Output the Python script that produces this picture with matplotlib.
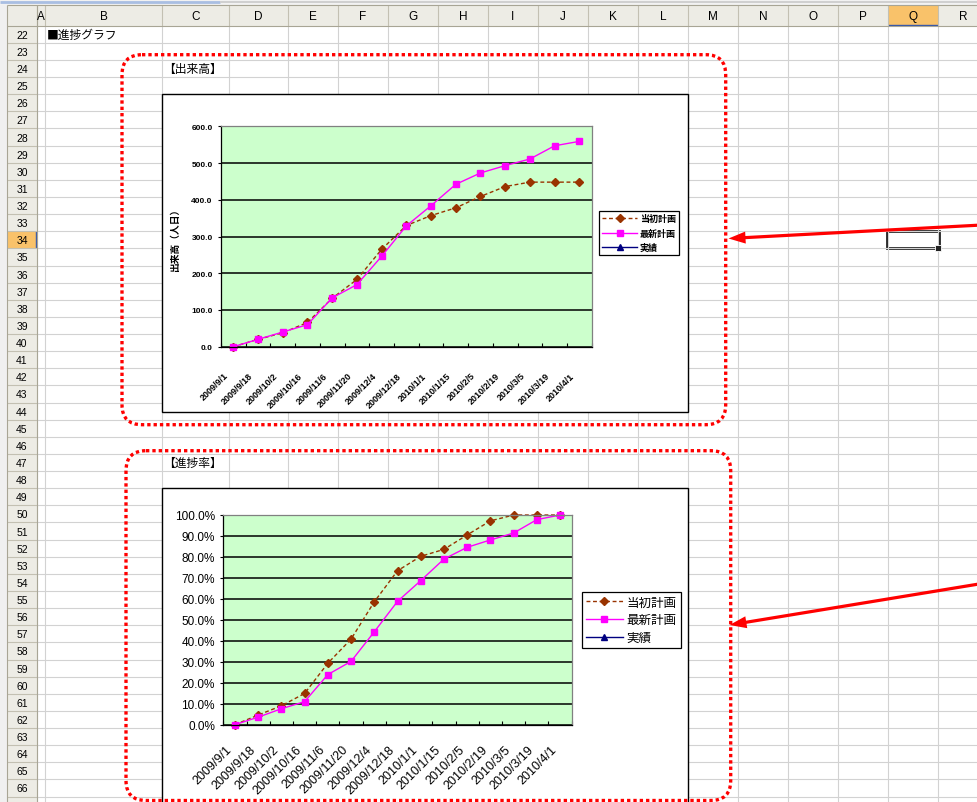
import numpy as np
import matplotlib
matplotlib.use('Agg')
import matplotlib.pyplot as plt
import matplotlib.transforms as mtransforms
from matplotlib.patches import Rectangle, FancyBboxPatch, FancyArrow
from matplotlib.ticker import FixedLocator, FuncFormatter

plt.rcParams['font.family'] = ['Liberation Sans', 'Noto Sans CJK JP', 'DejaVu Sans']
CJK = ['Noto Sans CJK JP', 'DejaVu Sans']

#################### data ####################
dates = ['2009/9/1', '2009/9/18', '2009/10/2', '2009/10/16', '2009/11/6',
         '2009/11/20', '2009/12/4', '2009/12/18', '2010/1/1', '2010/1/15',
         '2010/2/5', '2010/2/19', '2010/3/5', '2010/3/19', '2010/4/1']
series_names = ['当初計画', '最新計画', '実績']

volume_initial = [0, 20, 38, 66, 132, 183, 265, 330, 357, 378, 409, 436, 448, 448, 448]
volume_latest = [0, 20, 40, 60, 133, 169, 246, 329, 384, 442, 473, 493, 511, 547, 559]
volume_actual = []
volume_ticks = [0, 100, 200, 300, 400, 500, 600]

rate_initial = [0, 4.6, 9.0, 14.9, 29.3, 40.8, 58.6, 73.4, 80.3, 83.6, 90.5, 97.2, 100, 100, 100]
rate_latest = [0, 3.6, 7.6, 11.0, 23.9, 30.2, 44.3, 58.8, 68.7, 79.0, 84.6, 88.1, 91.4, 97.8, 100]
rate_actual = []
rate_ticks = [0, 10, 20, 30, 40, 50, 60, 70, 80, 90, 100]

col_letters = list('ABCDEFGHIJKLMNOPQR')
row_numbers = list(range(22, 67))
sheet_title = '■進捗グラフ'
chart_titles = ['【出来高】', '【進捗率】']
volume_ylabel = '出来高（人日）'

#################### layout (pixels) ####################
W, H = 978, 803
col_edges = [37, 45, 162, 229, 288, 338, 388, 438, 488, 538, 588, 638,
             688, 738, 788, 838, 888, 938, 988]
head_top = 6
row_top = 26.7
row_h = 17.13

fig = plt.figure(figsize=(W / 100, H / 100), dpi=100)
fig.patch.set_facecolor('white')


def px_axes(x0, y0, x1, y1, z):
    return fig.add_axes([x0 / W, 1 - y1 / H, (x1 - x0) / W, (y1 - y0) / H], zorder=z)


def row_y(i):
    return row_top + i * row_h


#################### spreadsheet background ####################
bg = px_axes(0, 0, W, H, 0)
bg.set_xlim(0, W)
bg.set_ylim(H, 0)
bg.axis('off')

head_fc = '#EDECE5'
head_line = '#C3C0B2'
grid_c = '#D2D2D2'

bg.add_patch(Rectangle((0, 0), W, head_top, fc='#F2F2F2', ec='none'))
bg.hlines(3, 0, 220, color='#A9BEE2', lw=2)
bg.hlines(3, 220, W, color='#D0D0D0', lw=1.4)
bg.add_patch(Rectangle((0, head_top), 7, H, fc='#F0F0F0', ec='none'))
bg.add_patch(Rectangle((7, head_top), W, row_top - head_top, fc=head_fc, ec='none'))
bg.add_patch(Rectangle((7, row_top), 30, H, fc=head_fc, ec='none'))

# selected cell headers
sel_col = col_letters.index('Q')
sel_row = row_numbers.index(34)
bg.add_patch(Rectangle((col_edges[sel_col], head_top), col_edges[sel_col + 1] - col_edges[sel_col],
                       row_top - head_top, fc='#F9C26A', ec='none'))
bg.add_patch(Rectangle((7, row_y(sel_row)), 30, row_h, fc='#F9C26A', ec='none'))
bg.hlines(row_top - 0.8, col_edges[sel_col], col_edges[sel_col + 1], color='#3355AA', lw=1)
bg.vlines(36.2, row_y(sel_row), row_y(sel_row + 1), color='#3355AA', lw=1)

# grid lines
for k in range(1, len(row_numbers) + 2):
    bg.hlines(row_y(k), 37, W, color=grid_c, lw=0.8)
    bg.hlines(row_y(k), 7, 37, color=head_line, lw=0.8)
for xe in col_edges:
    bg.vlines(xe, row_top, H, color=grid_c, lw=0.8)
    bg.vlines(xe, head_top, row_top, color=head_line, lw=0.8)
bg.hlines(row_top, 7, W, color='#A8A595', lw=0.8)
bg.vlines(7, head_top, H, color='#A8A595', lw=0.8)
bg.vlines(37, head_top, H, color='#A8A595', lw=0.8)
bg.hlines(head_top, 7, W, color='#A8A595', lw=0.8)

# header texts
for i, c in enumerate(col_letters):
    xc = (col_edges[i] + col_edges[i + 1]) / 2
    t = bg.text(xc, (head_top + row_top) / 2 + 0.5, c, ha='center', va='center', fontsize=8.5)
    clip = Rectangle((col_edges[i], head_top), col_edges[i + 1] - col_edges[i],
                     row_top - head_top, transform=bg.transData)
    t.set_clip_path(clip)
for i, n in enumerate(row_numbers):
    bg.text(22, row_y(i) + row_h / 2 + 0.5, str(n), ha='center', va='center', fontsize=7.5)

# cell texts
bg.text(47, row_y(0) + row_h / 2, sheet_title, ha='left', va='center', fontsize=8.5, family=CJK)
bg.text(163, row_y(2) + row_h / 2, chart_titles[0], ha='left', va='center', fontsize=8.5, family=CJK)
bg.text(163, row_y(25) + row_h / 2, chart_titles[1], ha='left', va='center', fontsize=8.5, family=CJK)

# selected cell
bg.add_patch(Rectangle((col_edges[sel_col] - 1.5, row_y(sel_row)), 52, row_h,
                       fill=False, ec='#222222', lw=2))
bg.add_patch(Rectangle((col_edges[sel_col + 1] - 3, row_y(sel_row + 1) - 3), 6, 6,
                       fc='#222222', ec='white', lw=0.6, zorder=5))

# chart frames
bg.add_patch(Rectangle((162.3, 95), 525.4, 318.3, fc='white', ec='black', lw=1.0, zorder=6))
bg.add_patch(Rectangle((161.7, 489.3), 526, 360, fc='white', ec='black', lw=1.0, zorder=6))


#################### charts ####################
def draw_chart(ax, init, latest, actual, ticks, fmt, tfs, bold, lab_off, lab_fs,
               leg_xy, leg_fs, handle_len, lab_space, ms):
    x = np.arange(len(dates))
    ax.set_facecolor('#CCFFCC')
    ax.plot(x, init, color='#993300', ls=(0, (2.8, 1.9)), lw=1.0, marker='D',
            ms=ms, mfc='#993300', mec='#993300', label=series_names[0], clip_on=False)
    ax.plot(x, latest, color='#FF00FF', lw=1.0, marker='s', ms=ms - 0.4,
            mfc='#FF00FF', mec='#FF00FF', label=series_names[1], clip_on=False)
    ax.plot(x[:len(actual)], actual, color='#000080', lw=1.0, marker='^', ms=ms - 0.8,
            label=series_names[2])
    ax.set_xlim(-0.5, len(dates) - 0.5)
    ax.set_ylim(ticks[0], ticks[-1])
    ax.xaxis.set_major_locator(FixedLocator(np.arange(-0.5, len(dates), 1)))
    ax.set_xticklabels([])
    ax.yaxis.set_major_locator(FixedLocator(ticks))
    ax.yaxis.set_major_formatter(FuncFormatter(lambda v, p: fmt.format(v)))
    ax.tick_params(axis='x', direction='in', length=3, width=0.8, color='black')
    ax.tick_params(axis='y', direction='out', length=2.5, width=0.8, pad=3.5,
                   labelsize=tfs, color='black')
    for t in ax.get_yticklabels():
        t.set_fontweight(bold)
    ax.yaxis.grid(True, color='black', lw=1.1)
    ax.set_axisbelow(True)
    for s in ['top', 'right']:
        ax.spines[s].set_color('#808080')
    for s in ['left', 'bottom']:
        ax.spines[s].set_color('black')
    for s in ax.spines.values():
        s.set_linewidth(0.9)
    trans = mtransforms.blended_transform_factory(ax.transData, ax.transAxes) + \
        mtransforms.ScaledTranslation(lab_off[0] / 100, lab_off[1] / 100, fig.dpi_scale_trans)
    for i, d in enumerate(dates):
        ax.text(x[i], 0, d, transform=trans, rotation=45, rotation_mode='anchor',
                ha='right', va='top', fontsize=lab_fs, fontweight=bold)
    leg = ax.legend(loc='upper left', bbox_to_anchor=(leg_xy[0] / W, 1 - leg_xy[1] / H),
                    bbox_transform=fig.transFigure, frameon=True,
                    fancybox=False, framealpha=1, edgecolor='black', borderaxespad=0,
                    borderpad=0.35, handlelength=handle_len, handletextpad=0.3,
                    labelspacing=lab_space, prop={'size': leg_fs, 'weight': bold})
    leg.get_frame().set_linewidth(0.9)
    return ax


ax1 = px_axes(221, 127.3, 591.7, 347.7, 7)
draw_chart(ax1, volume_initial, volume_latest, volume_actual, volume_ticks, '{:.1f}',
           6, 'bold', (-9.5, -24), 6.5, (599, 212), 6.5, 3.9, 0.6, 4.4)
ax1.set_ylabel(volume_ylabel, fontsize=7, fontweight='bold', family=CJK)
ax1.yaxis.set_label_coords(-0.11, 0.5)

ax2 = px_axes(223.3, 516, 571.7, 725.7, 7)
draw_chart(ax2, rate_initial, rate_latest, rate_actual, rate_ticks, '{:.1f}%',
           8.5, 'normal', (-9, -18), 9, (582, 593.3), 9, 2.9, 0.45, 4.5)

#################### overlay: red marks ####################
ov = px_axes(0, 0, W, H, 20)
ov.set_xlim(0, W)
ov.set_ylim(H, 0)
ov.axis('off')
ov.patch.set_alpha(0)

for (x0, y0, x1, y1) in [(122, 55.7, 725.7, 425.7), (126, 451.7, 730.7, 801.5)]:
    ov.add_patch(FancyBboxPatch((x0, y0), x1 - x0, y1 - y0,
                                boxstyle='round,pad=0,rounding_size=20', fill=False,
                                ec='#FF0000', lw=2.4, ls=(0, (1, 0.9)), capstyle='butt'))

for (sx, sy, tx, ty) in [(982, 226, 728.5, 239.5), (982, 584.5, 729.5, 626)]:
    ov.add_patch(FancyArrow(sx, sy, tx - sx, ty - sy, width=3.2, head_width=12,
                            head_length=17, length_includes_head=True,
                            color='#FF0000', lw=0))

fig.savefig('out.png', dpi=100)
